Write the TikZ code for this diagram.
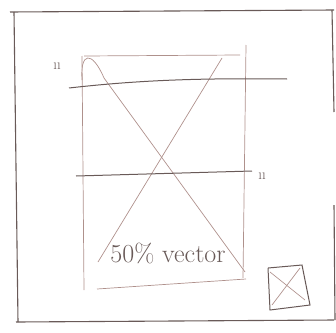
\documentclass[tikz,border=0pt]{standalone}
\usepackage{tikz}
\usetikzlibrary{arrows,decorations.markings}
\definecolor{pencil}{RGB}{105,90,88}
\definecolor{faint}{RGB}{175,145,140}
\tikzset{frame/.style={draw=pencil,line width=1.1pt},
 rule/.style={draw=pencil,line width=1pt},
 guide/.style={draw=faint,line width=0.7pt},
 tick/.style={text=pencil,font=\fontsize{15}{15}\selectfont}}

\begin{document}
\begin{tikzpicture}[x=1pt,y=-1pt]
\useasboundingbox (0,0) rectangle (336,332);
% outer screen
\draw[frame] (10,12) -- (334,10);
\draw[frame] (14,12) -- (18,322);
\draw[frame] (16,322) -- (334,320);
\draw[frame] (332,10) -- (334,112);
\draw[frame] (334,205) -- (335,320);

% image box
\draw[guide] (82,56) -- (84,290);
\draw[guide] (84,56) -- (240,55);
\draw[guide] (246,45) -- (243,278);
\draw[guide] (97,289) -- (246,279);
\draw[guide] (82,80) .. controls (80,52) and (92,50) .. (104,78) -- (245,272);
\draw[guide] (222,58) -- (98,262);

% text lines
\draw[rule] (69,88) .. controls (140,80) and (200,78) .. (287,79);
\draw[rule] (76,176) -- (252,171);
\node[tick] (mtop) at (57,66) {ıı};
\node[tick] (mmid) at (262,176) {ıı};

% caption
\node[text=pencil,font=\fontsize{26}{26}\selectfont] (cap) at (168,253) {50\% vector};

% close icon
\draw[rule,line width=1pt] (268,268) -- (302,265) -- (310,305) -- (270,310) -- (268,268);
\draw[guide] (270,272) -- (305,300);
\draw[guide] (300,268) -- (272,305);
\end{tikzpicture}
\end{document}
